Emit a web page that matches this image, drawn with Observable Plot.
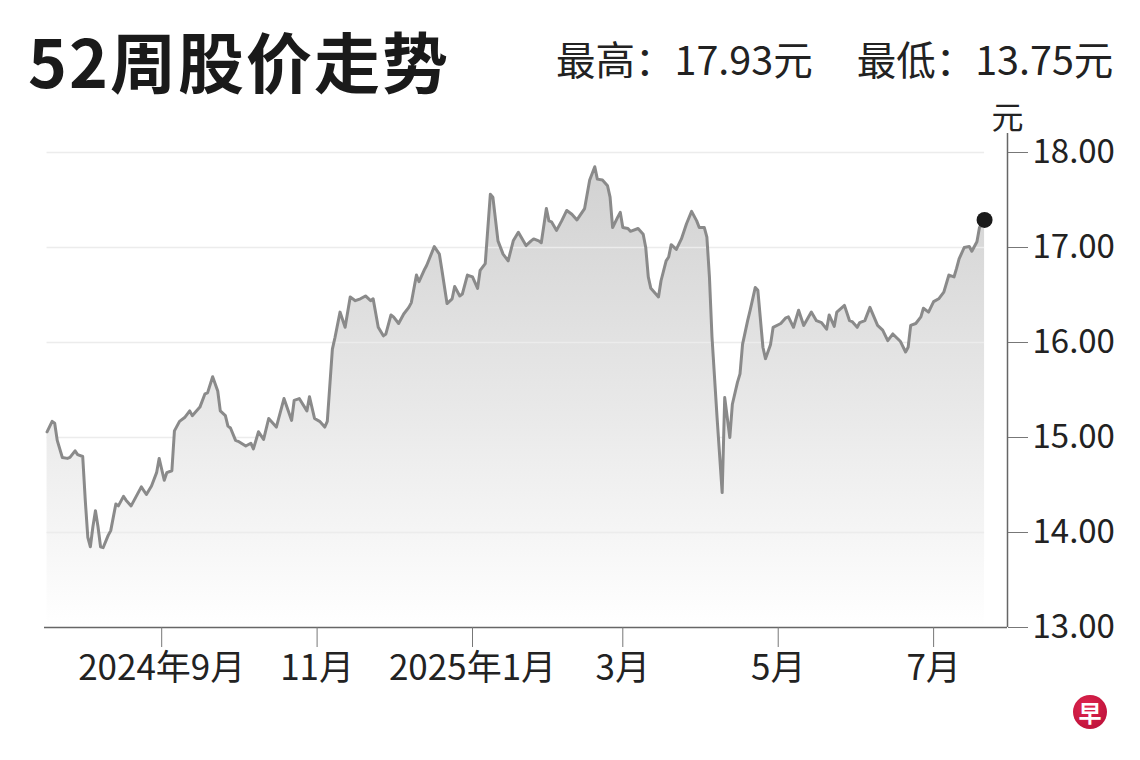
<!DOCTYPE html>
<html><head><meta charset="utf-8">
<script src="https://cdn.jsdelivr.net/npm/d3@7"></script>
<script src="https://cdn.jsdelivr.net/npm/@observablehq/plot@0.6"></script>
<style>
body{margin:0;background:#fff;font-family:"Noto Sans CJK SC","Noto Sans",sans-serif;color:#222;}
#wrap{position:relative;width:1140px;height:760px;overflow:hidden;}
#head{position:relative;height:100px;}
#title{position:absolute;left:28px;top:26px;font-size:66px;font-weight:700;line-height:1;letter-spacing:2px;color:#1a1a1a;white-space:nowrap;}
#stats{position:absolute;left:556px;top:38px;font-size:39.5px;line-height:1;white-space:nowrap;color:#222;}
#stats span+span{margin-left:44px;}
#logo{position:absolute;left:1073px;top:695px;width:34px;height:34px;border-radius:50%;background:radial-gradient(circle at 40% 35%,#e0264f,#b50d35);color:#fff;font-size:23px;font-weight:700;line-height:34px;text-align:center;}
</style></head>
<body><div id="wrap"><div id="head"><div id="title">52周股价走势</div><div id="stats"><span>最高：17.93元</span><span>最低：13.75元</span></div></div><div id="chart"></div><div id="logo">早</div></div>
<script>
const dates = ["2024-07-18","2024-07-20","2024-07-21","2024-07-22","2024-07-24","2024-07-26","2024-07-27","2024-07-29","2024-07-30","2024-08-01","2024-08-02","2024-08-03","2024-08-04","2024-08-05","2024-08-06","2024-08-07","2024-08-08","2024-08-09","2024-08-11","2024-08-12","2024-08-14","2024-08-15","2024-08-17","2024-08-18","2024-08-20","2024-08-22","2024-08-24","2024-08-26","2024-08-28","2024-08-30","2024-08-31","2024-09-02","2024-09-03","2024-09-05","2024-09-06","2024-09-08","2024-09-10","2024-09-12","2024-09-13","2024-09-16","2024-09-18","2024-09-19","2024-09-21","2024-09-23","2024-09-24","2024-09-26","2024-09-27","2024-09-28","2024-09-30","2024-10-01","2024-10-04","2024-10-06","2024-10-07","2024-10-09","2024-10-11","2024-10-13","2024-10-16","2024-10-19","2024-10-22","2024-10-23","2024-10-25","2024-10-28","2024-10-29","2024-10-31","2024-11-02","2024-11-04","2024-11-05","2024-11-07","2024-11-08","2024-11-10","2024-11-12","2024-11-14","2024-11-16","2024-11-18","2024-11-20","2024-11-22","2024-11-23","2024-11-25","2024-11-27","2024-11-28","2024-11-30","2024-12-01","2024-12-03","2024-12-05","2024-12-07","2024-12-08","2024-12-10","2024-12-11","2024-12-13","2024-12-14","2024-12-17","2024-12-19","2024-12-20","2024-12-22","2024-12-24","2024-12-25","2024-12-27","2024-12-28","2024-12-30","2025-01-01","2025-01-03","2025-01-04","2025-01-06","2025-01-08","2025-01-09","2025-01-11","2025-01-13","2025-01-15","2025-01-17","2025-01-19","2025-01-22","2025-01-24","2025-01-25","2025-01-27","2025-01-28","2025-01-30","2025-01-31","2025-02-01","2025-02-03","2025-02-05","2025-02-07","2025-02-09","2025-02-11","2025-02-14","2025-02-16","2025-02-18","2025-02-19","2025-02-21","2025-02-23","2025-02-24","2025-02-25","2025-02-27","2025-02-28","2025-03-01","2025-03-03","2025-03-04","2025-03-07","2025-03-09","2025-03-10","2025-03-11","2025-03-12","2025-03-15","2025-03-16","2025-03-18","2025-03-19","2025-03-20","2025-03-22","2025-03-24","2025-03-26","2025-03-28","2025-03-30","2025-03-31","2025-04-02","2025-04-03","2025-04-04","2025-04-05","2025-04-07","2025-04-09","2025-04-10","2025-04-12","2025-04-13","2025-04-15","2025-04-16","2025-04-17","2025-04-19","2025-04-20","2025-04-22","2025-04-23","2025-04-25","2025-04-26","2025-04-28","2025-04-29","2025-05-02","2025-05-04","2025-05-05","2025-05-07","2025-05-09","2025-05-11","2025-05-14","2025-05-16","2025-05-18","2025-05-20","2025-05-21","2025-05-23","2025-05-24","2025-05-27","2025-05-29","2025-05-30","2025-06-01","2025-06-02","2025-06-04","2025-06-06","2025-06-09","2025-06-11","2025-06-13","2025-06-15","2025-06-18","2025-06-20","2025-06-21","2025-06-22","2025-06-24","2025-06-26","2025-06-27","2025-06-29","2025-07-01","2025-07-03","2025-07-05","2025-07-07","2025-07-09","2025-07-10","2025-07-11","2025-07-13","2025-07-15","2025-07-16","2025-07-18","2025-07-19","2025-07-21"];
const prices = [15.06,15.17,15.15,14.97,14.79,14.78,14.79,14.86,14.82,14.80,14.34,13.95,13.85,14.06,14.23,14.06,13.85,13.84,13.97,14.02,14.30,14.28,14.38,14.34,14.28,14.38,14.48,14.40,14.49,14.63,14.78,14.55,14.63,14.65,15.07,15.17,15.21,15.28,15.23,15.32,15.46,15.47,15.64,15.49,15.28,15.23,15.12,15.10,14.97,14.96,14.91,14.94,14.88,15.06,14.98,15.20,15.11,15.41,15.18,15.39,15.41,15.28,15.43,15.20,15.17,15.11,15.17,15.93,16.05,16.32,16.16,16.48,16.44,16.46,16.49,16.44,16.46,16.16,16.07,16.09,16.29,16.27,16.20,16.30,16.37,16.42,16.71,16.64,16.76,16.81,17.01,16.93,16.76,16.41,16.46,16.59,16.49,16.51,16.71,16.69,16.57,16.76,16.83,17.56,17.53,17.07,16.93,16.86,17.07,17.16,17.02,17.07,17.09,17.07,17.05,17.41,17.28,17.27,17.18,17.28,17.39,17.35,17.29,17.41,17.71,17.85,17.72,17.71,17.65,17.53,17.21,17.32,17.37,17.21,17.20,17.17,17.20,17.14,17.00,16.69,16.57,16.48,16.65,16.86,16.90,17.03,16.98,17.09,17.25,17.38,17.28,17.21,17.21,17.11,16.69,16.06,15.21,14.42,15.42,15.00,15.35,15.58,15.67,15.98,16.23,16.34,16.58,16.55,15.95,15.83,15.98,16.16,16.20,16.26,16.27,16.16,16.34,16.18,16.32,16.23,16.21,16.14,16.29,16.17,16.32,16.39,16.23,16.22,16.16,16.21,16.23,16.37,16.18,16.13,16.02,16.09,16.01,15.90,15.95,16.18,16.20,16.27,16.36,16.32,16.43,16.46,16.53,16.71,16.69,16.78,16.88,17.00,17.01,16.96,17.06,17.21,17.29];
const yTicks = [13, 14, 15, 16, 17, 18];
const gridTicks = [14, 15, 16, 17, 18];
const xTickDates = ["2024-09-01","2024-11-01","2025-01-01","2025-03-01","2025-05-01","2025-07-01"];
const xTickLabels = ["2024年9月","11月","2025年1月","3月","5月","7月"];
const xDomain = ["2024-07-17","2025-07-30"];
const yDomain = [13, 18.2];
const yUnit = "元";

const data = dates.map((d, i) => ({date: new Date(d), price: prices[i]}));
const xd = xDomain.map(d => new Date(d));
const xt = xTickDates.map(d => new Date(d));
const first = data[0], last = data[data.length - 1];
const font = '"Noto Sans CJK SC", "Noto Sans", sans-serif';

const plot = Plot.plot({
  width: 1140,
  height: 660,
  marginLeft: 44,
  marginRight: 133,
  marginTop: 33,
  marginBottom: 133,
  style: {fontFamily: font, background: "#fff", color: "#222", overflow: "visible"},
  x: {type: "utc", domain: xd},
  y: {domain: yDomain},
  marks: [
    Plot.areaY(data, {x: "date", y1: yDomain[0], y2: "price", fill: "url(#areaGrad)", curve: "linear"}),
    Plot.ruleY(gridTicks, {x1: first.date, x2: last.date, stroke: "#ececec", strokeWidth: 1.5}),
    Plot.lineY(data, {x: "date", y: "price", stroke: "#8a8a8a", strokeWidth: 3, strokeLinejoin: "round"}),
    Plot.ruleY([yDomain[0]], {x1: xd[0], x2: xd[1], stroke: "#666", strokeWidth: 1.5}),
    Plot.ruleX([xd[1]], {y1: yDomain[0], y2: yDomain[1], stroke: "#666", strokeWidth: 1.5}),
    Plot.axisX(xt, {tickFormat: (d, i) => xTickLabels[i], tickSize: 20, tickPadding: 8, fontSize: 35, stroke: "#777", fill: "#222", label: null}),
    Plot.axisY(yTicks, {anchor: "right", tickFormat: d => d.toFixed(2), tickSize: 20, tickPadding: 5, fontSize: 33, stroke: "#777", fill: "#222", label: null}),
    Plot.text([yUnit], {x: xd[1], y: yDomain[1], text: d => d, dy: -15, fontSize: 32, fill: "#222", textAnchor: "middle"}),
    Plot.dot([last], {x: "date", y: "price", r: 8, fill: "#1a1a1a"})
  ]
});

const ys = plot.scale("y");
const svg = d3.select(plot);
const defs = svg.insert("defs", ":first-child");
const g = defs.append("linearGradient").attr("id", "areaGrad")
  .attr("gradientUnits", "userSpaceOnUse")
  .attr("x1", 0).attr("x2", 0)
  .attr("y1", ys.apply(18)).attr("y2", ys.apply(13));
g.append("stop").attr("offset", 0).attr("stop-color", "#d0d0d0");
g.append("stop").attr("offset", 0.55).attr("stop-color", "#e9e9e9");
g.append("stop").attr("offset", 1).attr("stop-color", "#ffffff");
document.getElementById("chart").appendChild(plot);
</script>
</body></html>
